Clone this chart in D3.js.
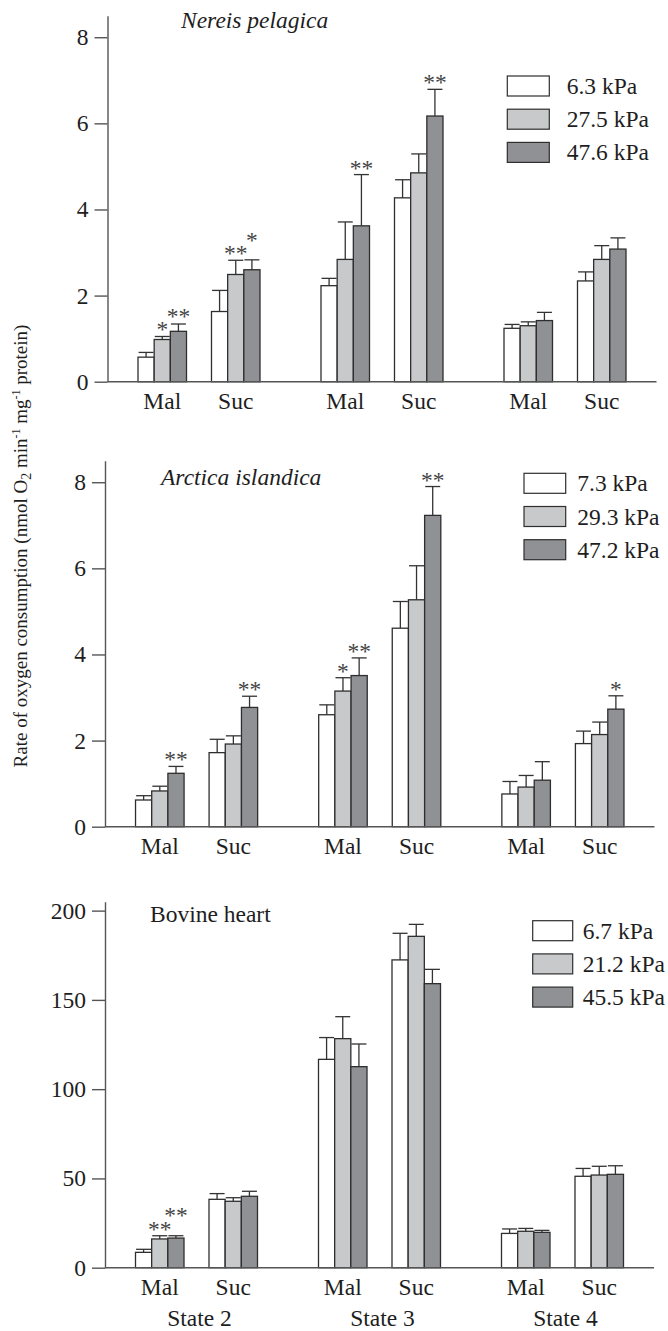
<!DOCTYPE html>
<html>
<head>
<meta charset="utf-8">
<script src="https://cdn.jsdelivr.net/npm/d3@7"></script>
<style>
  html, body { margin: 0; padding: 0; background: #fff; }
  svg { display: block; font-family: "Liberation Serif", "Times New Roman", serif; }
  svg text { font-family: "Liberation Serif", "Times New Roman", serif; }
</style>
</head>
<body>
<svg id="chart" width="668" height="1331"></svg>
<script>
// ---------- data ----------
const states = ["State 2", "State 3", "State 4"];
const substrates = ["Mal", "Suc"];
const groups = ["Mal2", "Suc2", "Mal3", "Suc3", "Mal4", "Suc4"];

const nereisTitle = "Nereis pelagica";
const nereisPressures = ["6.3 kPa", "27.5 kPa", "47.6 kPa"];
const nereisMeans = [[0.57, 0.98, 1.17], [1.63, 2.49, 2.60], [2.23, 2.84, 3.62], [4.27, 4.85, 6.17], [1.24, 1.30, 1.42], [2.34, 2.84, 3.08]];
const nereisErrors = [[0.11, 0.07, 0.17], [0.49, 0.33, 0.23], [0.17, 0.87, 1.19], [0.42, 0.44, 0.62], [0.09, 0.09, 0.19], [0.21, 0.32, 0.26]];
const nereisStars = [["", "*", "**"], ["", "**", "*"], ["", "", "**"], ["", "", "**"], ["", "", ""], ["", "", ""]];
const nereisTicks = [0, 2, 4, 6, 8];

const arcticaTitle = "Arctica islandica";
const arcticaPressures = ["7.3 kPa", "29.3 kPa", "47.2 kPa"];
const arcticaMeans = [[0.62, 0.83, 1.24], [1.72, 1.92, 2.77], [2.60, 3.15, 3.51], [4.61, 5.27, 7.23], [0.76, 0.92, 1.08], [1.93, 2.14, 2.73]];
const arcticaErrors = [[0.10, 0.11, 0.16], [0.31, 0.19, 0.26], [0.23, 0.31, 0.41], [0.62, 0.79, 0.67], [0.29, 0.27, 0.43], [0.29, 0.29, 0.31]];
const arcticaStars = [["", "", "**"], ["", "", "**"], ["", "*", "**"], ["", "", "**"], ["", "", ""], ["", "", "*"]];
const arcticaTicks = [0, 2, 4, 6, 8];

const bovineTitle = "Bovine heart";
const bovinePressures = ["6.7 kPa", "21.2 kPa", "45.5 kPa"];
const bovineMeans = [[8.6, 16.1, 16.6], [38.3, 37.2, 40.0], [116.7, 128.3, 112.6], [172.4, 185.6, 159.1], [19.2, 20.4, 19.8], [51.2, 51.9, 52.3]];
const bovineErrors = [[1.7, 1.8, 1.3], [3.2, 2.0, 2.8], [12.2, 12.3, 12.7], [14.9, 6.7, 8.0], [2.5, 1.6, 1.1], [4.4, 4.9, 4.8]];
const bovineStars = [["", "**", "**"], ["", "", ""], ["", "", ""], ["", "", ""], ["", "", ""], ["", "", ""]];
const bovineTicks = [0, 50, 100, 150, 200];

const yTitle = "Rate of oxygen consumption";

// ---------- styles ----------
const fills = ["#ffffff", "#c8c9cb", "#909195"];
const barStroke = "#2e2e2e";
const axisColor = "#555";
const textColor = "#1e1e1e";
const FS = 23.5;
const FONT = "'Liberation Serif', 'Times New Roman', serif";

const svg = d3.select("#chart");

const panels = [
  { title: nereisTitle, italic: true, pressures: nereisPressures, means: nereisMeans, errors: nereisErrors, stars: nereisStars, ticks: nereisTicks, ymax: 8.5,
    left: 107.5, right: 656.5, zero: 381.7, titleX: 181, titleY: 28, legX: 507.3, legY: 76, legTextX: 566.7, legW: 42, showStates: false },
  { title: arcticaTitle, italic: true, pressures: arcticaPressures, means: arcticaMeans, errors: arcticaErrors, stars: arcticaStars, ticks: arcticaTicks, ymax: 8.5,
    left: 105, right: 654.5, zero: 826.7, titleX: 161, titleY: 485, legX: 524, legY: 473.3, legTextX: 577.3, legW: 41.7, showStates: false },
  { title: bovineTitle, italic: false, pressures: bovinePressures, means: bovineMeans, errors: bovineErrors, stars: bovineStars, ticks: bovineTicks, ymax: 205,
    left: 105, right: 654, zero: 1267.7, titleX: 150, titleY: 921.5, legX: 532.7, legY: 920.7, legTextX: 582.7, legW: 40, showStates: true }
];

const AXIS_H = 366;

panels.forEach(p => {
  const g = svg.append("g");
  const y = d3.scaleLinear().domain([0, p.ymax]).range([p.zero, p.zero - AXIS_H]);
  const xState = d3.scaleBand().domain(states).range([p.left, p.right]).paddingInner(0).paddingOuter(0);
  const xSub = d3.scaleBand().domain(substrates).range([0, xState.bandwidth()]).paddingInner(0.34).paddingOuter(0.415);
  const xP = d3.scaleBand().domain([0, 1, 2]).range([0, xSub.bandwidth()]).padding(0);

  // y axis
  const axis = d3.axisLeft(y).tickValues(p.ticks).tickSize(13).tickSizeOuter(0).tickPadding(6).tickFormat(d3.format("d"));
  const ag = g.append("g").attr("transform", `translate(${p.left},0)`).call(axis)
    .attr("font-family", FONT).attr("font-size", FS);
  ag.select(".domain").attr("stroke", axisColor).attr("stroke-width", 1.4);
  ag.selectAll(".tick line").attr("stroke", axisColor).attr("stroke-width", 1.4);
  ag.selectAll(".tick text").attr("fill", textColor);

  // bars
  const starBoxes = [];
  groups.forEach((gName, gi) => {
    const st = states[Math.floor(gi / 2)];
    const sub = substrates[gi % 2];
    const gx = xState(st) + xSub(sub);
    p.means[gi].forEach((v, pi) => {
      const bx = gx + xP(pi);
      const bw = xP.bandwidth();
      const cx = bx + bw / 2;
      const errTop = y(v + p.errors[gi][pi]);
      // error bar (upper only)
      g.append("line").attr("x1", cx).attr("x2", cx).attr("y1", y(v)).attr("y2", errTop)
        .attr("stroke", "#333").attr("stroke-width", 1.3);
      g.append("line").attr("x1", cx - 7.5).attr("x2", cx + 7.5).attr("y1", errTop).attr("y2", errTop)
        .attr("stroke", "#333").attr("stroke-width", 1.3);
      g.append("rect").attr("x", bx).attr("y", y(v)).attr("width", bw).attr("height", y(0) - y(v))
        .attr("fill", fills[pi]).attr("stroke", barStroke).attr("stroke-width", 1.3);
      const s = p.stars[gi][pi];
      if (s) {
        const w = s.length * FS * 0.5;
        let cy = errTop - 12;
        const box = { x0: cx - w / 2, x1: cx + w / 2 };
        starBoxes.forEach(b => {
          if (box.x0 < b.x1 + 2 && box.x1 > b.x0 - 2 && Math.abs(cy - b.cy) < 14) cy = Math.min(cy, b.cy - 13.5);
        });
        box.cy = cy;
        starBoxes.push(box);
        g.append("text").attr("x", cx).attr("y", cy + 13).attr("text-anchor", "middle")
          .attr("fill", "#444").style("font-size", FS + "px").text(s);
      }
    });
  });

  // baseline
  g.append("line").attr("x1", p.left).attr("x2", p.right).attr("y1", y(0)).attr("y2", y(0))
    .attr("stroke", axisColor).attr("stroke-width", 1.6);

  // x labels
  states.forEach(st => {
    substrates.forEach(sub => {
      g.append("text").attr("x", xState(st) + xSub(sub) + xSub.bandwidth() / 2).attr("y", p.zero + 27)
        .attr("text-anchor", "middle").attr("fill", textColor).style("font-size", FS + "px").text(sub);
    });
    if (p.showStates) {
      g.append("text").attr("x", xState(st) + xState.bandwidth() / 2 + 3).attr("y", p.zero + 58)
        .attr("text-anchor", "middle").attr("fill", textColor).style("font-size", FS + "px").text(st);
    }
  });

  // title
  g.append("text").attr("x", p.titleX).attr("y", p.titleY).attr("fill", textColor)
    .style("font-size", FS + "px").style("font-style", p.italic ? "italic" : "normal").text(p.title);

  // legend
  p.pressures.forEach((lab, i) => {
    const ly = p.legY + i * 33.2;
    g.append("rect").attr("x", p.legX).attr("y", ly).attr("width", p.legW).attr("height", 20)
      .attr("fill", fills[i]).attr("stroke", barStroke).attr("stroke-width", 1.2);
    g.append("text").attr("x", p.legTextX).attr("y", ly + 18).attr("fill", textColor)
      .style("font-size", FS + "px").text(lab);
  });
});

// y-axis title
const yt = svg.append("text").attr("transform", "translate(27,546) rotate(-90)")
  .attr("text-anchor", "middle").attr("fill", textColor).style("font-size", "19px");
yt.append("tspan").text(yTitle + " (nmol O");
yt.append("tspan").attr("dy", 4).style("font-size", "14px").text("2");
yt.append("tspan").attr("dy", -4).text(" min");
yt.append("tspan").attr("dy", -7).style("font-size", "12px").text("-1");
yt.append("tspan").attr("dy", 7).text(" mg");
yt.append("tspan").attr("dy", -7).style("font-size", "12px").text("-1");
yt.append("tspan").attr("dy", 7).text(" protein)");
</script>
</body>
</html>
